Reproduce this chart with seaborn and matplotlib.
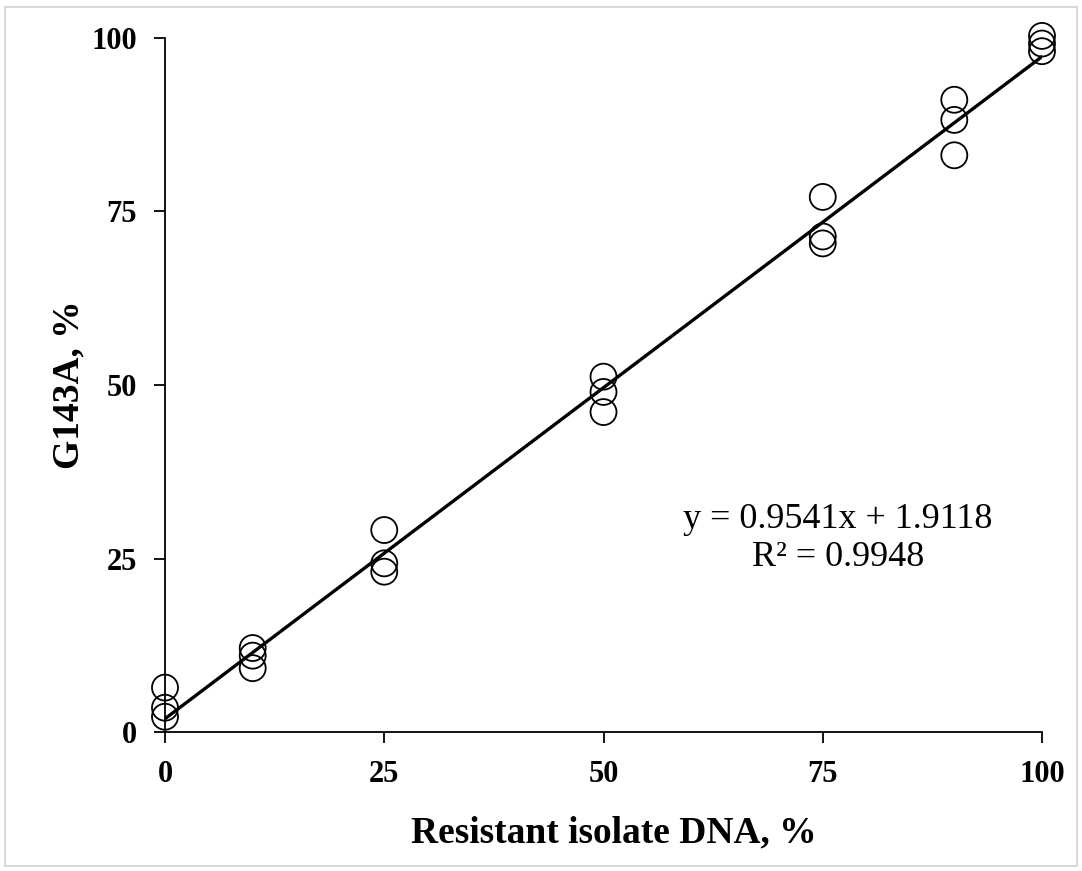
import matplotlib
matplotlib.use("Agg")
import matplotlib.pyplot as plt
import seaborn as sns
import pandas as pd
from matplotlib.patches import Rectangle

# Data
resistant_pct = [0, 0, 0, 10, 10, 10, 25, 25, 25, 50, 50, 50, 75, 75, 75, 90, 90, 90, 100, 100, 100]
g143a_pct = [6.4, 3.5, 2.2, 12.1, 11.0, 9.2, 29.1, 24.3, 23.1, 51.2, 49.0, 46.1,
             77.1, 71.4, 70.4, 91.1, 88.2, 83.1, 100.3, 99.2, 98.1]
fit_slope = 0.9541
fit_intercept = 1.9118
fit_r2 = 0.9948
tick_values = [0, 25, 50, 75, 100]

sns.set_theme(style="ticks")
plt.rcParams['font.family'] = ['Liberation Serif', 'DejaVu Serif']
plt.rcParams['text.color'] = 'black'
plt.rcParams['axes.labelcolor'] = 'black'
plt.rcParams['xtick.color'] = 'black'
plt.rcParams['ytick.color'] = 'black'

df = pd.DataFrame({"x": resistant_pct, "y": g143a_pct})
fit_x = [min(resistant_pct), max(resistant_pct)]
fit_df = pd.DataFrame({"x": fit_x, "y": [fit_slope * v + fit_intercept for v in fit_x]})

fig = plt.figure(figsize=(10.82, 8.71), dpi=100)
ax = fig.add_axes([165 / 1082, 1 - 732 / 871, (1042 - 165) / 1082, (732 - 38) / 871])

sns.scatterplot(data=df, x="x", y="y", ax=ax, s=350, marker="o",
                facecolor="none", edgecolor="black", linewidth=1.3, clip_on=False, zorder=3)
sns.lineplot(data=fit_df, x="x", y="y", ax=ax, color="black", linewidth=2.4, zorder=4)

ax.set_xlim(0, 100)
ax.set_ylim(0, 100)
ax.set_xticks(tick_values)
ax.set_yticks(tick_values)
ax.set_xticklabels([str(t) for t in tick_values])
ax.set_yticklabels([str(t) for t in tick_values])
ax.tick_params(axis="both", direction="out", length=8, width=1.3, colors="black",
               labelsize=22, pad=12)
for lab in ax.get_xticklabels() + ax.get_yticklabels():
    lab.set_fontweight("bold")
for sp in ["top", "right"]:
    ax.spines[sp].set_visible(False)
for sp in ["left", "bottom"]:
    ax.spines[sp].set_linewidth(1.3)
    ax.spines[sp].set_color("black")

ax.set_xlabel("Resistant isolate DNA, %", fontsize=27, fontweight="bold")
ax.xaxis.set_label_coords((614 - 165) / 877, -0.12)
ax.set_ylabel("G143A, %", fontsize=27, fontweight="bold", labelpad=4)

eq_x = 838 / 1082
fig.text(eq_x, 1 - 520 / 871, f"y = {fit_slope}x + {fit_intercept}", ha="center", va="center",
         fontsize=26, color="black")
fig.text(eq_x, 1 - 557 / 871, f"R² = {fit_r2}", ha="center", va="center", fontsize=26, color="black")

fig.patches.append(Rectangle((5 / 1082, 1 - 866 / 871), 1072 / 1082, 859 / 871,
                             transform=fig.transFigure, fill=False, edgecolor="#d9d9d9", linewidth=1.5))

fig.savefig("out.png", dpi=100, facecolor="white")
